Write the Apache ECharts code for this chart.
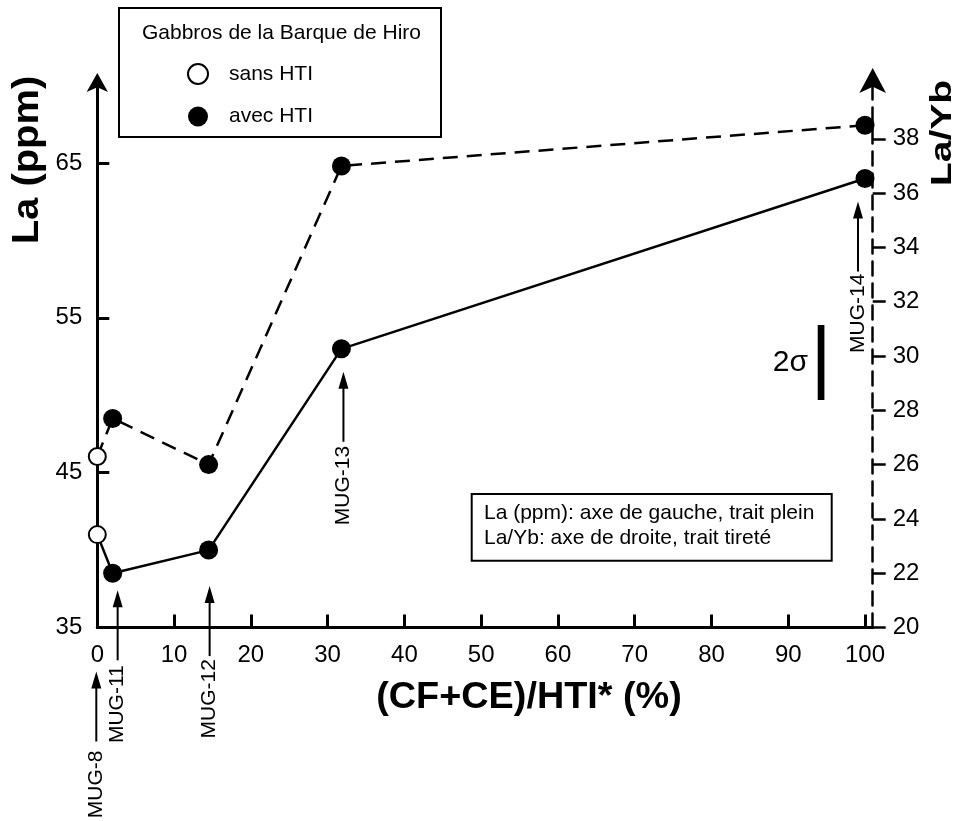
<!DOCTYPE html>
<html>
<head>
<meta charset="UTF-8">
<title>La et La/Yb - Gabbros de la Barque de Hiro</title>
<script src="https://cdn.jsdelivr.net/npm/echarts@6/dist/echarts.min.js"></script>
<style>
  html, body { margin: 0; padding: 0; background: #fff; }
  #main { width: 962px; height: 821px; }
</style>
</head>
<body>
<div id="main"></div>
<script type="text/javascript">
// valeurs
var samples = ['MUG-8', 'MUG-11', 'MUG-12', 'MUG-13', 'MUG-14'];
var ratioHTI = [0, 2, 14.5, 31.8, 100];        // (CF+CE)/HTI* (%)
var laPpm = [41.0, 38.5, 40.0, 53.0, 64.0];     // axe de gauche, trait plein
var laYb = [26.3, 27.7, 26.0, 37.0, 38.5];      // axe de droite, trait tireté
var avecHTI = [false, true, true, true, true];
var xTicks = [0, 10, 20, 30, 40, 50, 60, 70, 80, 90, 100];
var laTicks = [35, 45, 55, 65];
var laYbTicks = [20, 22, 24, 26, 28, 30, 32, 34, 36, 38];

var FONT = 'Liberation Sans, Arial, Helvetica, sans-serif';

function pairs(ys, keep) {
  var out = [];
  for (var i = 0; i < ys.length; i++) {
    if (keep == null || avecHTI[i] === keep) out.push([ratioHTI[i], ys[i]]);
  }
  return out;
}

var chart = echarts.init(document.getElementById('main'));

var openStyle = { color: '#fff', borderColor: '#000', borderWidth: 2, opacity: 1 };
var fullStyle = { color: '#000', borderColor: '#000', borderWidth: 0, opacity: 1 };

var option = {
  animation: false,
  backgroundColor: '#fff',
  grid: { left: 97.3, right: 89.3, top: 81, bottom: 193.5 },
  legend: {
    orient: 'vertical',
    left: 182, top: 58,
    itemWidth: 20, itemHeight: 20, itemGap: 21,
    itemStyle: { opacity: 1 },
    textStyle: { fontFamily: FONT, fontSize: 21, color: '#000', padding: [0, 0, 0, 16] },
    data: ['sans HTI', 'avec HTI']
  },
  xAxis: {
    type: 'value', min: 0, max: 101,
    axisLine: { onZero: false, lineStyle: { color: '#000', width: 3 } },
    axisTick: { inside: true, length: 13, lineStyle: { color: '#000', width: 3 }, customValues: xTicks },
    axisLabel: { margin: 16, fontFamily: FONT, fontSize: 24, color: '#000', customValues: xTicks },
    splitLine: { show: false }
  },
  yAxis: [
    {
      type: 'value', position: 'left', min: 35, max: 70.3,
      axisLine: { show: true, onZero: false, symbol: ['none', 'arrow'], symbolSize: [16, 19], symbolOffset: [0, 8],
        lineStyle: { color: '#000', width: 3 } },
      axisTick: { show: true, inside: true, length: 12, lineStyle: { color: '#000', width: 3 }, customValues: laTicks },
      axisLabel: { margin: 15, fontFamily: FONT, fontSize: 24, color: '#000', customValues: laTicks },
      splitLine: { show: false }
    },
    {
      type: 'value', position: 'right', min: 20, max: 40.13,
      axisLine: { show: true, onZero: false, symbol: ['none', 'arrow'], symbolSize: [20, 25], symbolOffset: [0, 13],
        lineStyle: { color: '#000', width: 2.5, type: [14, 8] } },
      axisTick: { show: true, inside: false, length: 13, lineStyle: { color: '#000', width: 2.5 }, customValues: laYbTicks },
      axisLabel: { margin: 20, fontFamily: FONT, fontSize: 24, color: '#000', customValues: laYbTicks },
      splitLine: { show: false }
    }
  ],
  series: [
    {
      name: 'La', type: 'line', xAxisIndex: 0, yAxisIndex: 0,
      data: pairs(laPpm), showSymbol: false, symbol: 'none', z: 2,
      lineStyle: { color: '#000', width: 2.5 }
    },
    {
      name: 'La/Yb', type: 'line', xAxisIndex: 0, yAxisIndex: 1,
      data: pairs(laYb), showSymbol: false, symbol: 'none', z: 2,
      lineStyle: { color: '#000', width: 2.5, type: [15, 9] }
    },
    { name: 'sans HTI', type: 'scatter', yAxisIndex: 0, data: pairs(laPpm, false),
      symbol: 'circle', symbolSize: 17, itemStyle: openStyle, z: 5 },
    { name: 'sans HTI', type: 'scatter', yAxisIndex: 1, data: pairs(laYb, false),
      symbol: 'circle', symbolSize: 17, itemStyle: openStyle, z: 5 },
    { name: 'avec HTI', type: 'scatter', yAxisIndex: 0, data: pairs(laPpm, true),
      symbol: 'circle', symbolSize: 19, itemStyle: fullStyle, z: 5 },
    { name: 'avec HTI', type: 'scatter', yAxisIndex: 1, data: pairs(laYb, true),
      symbol: 'circle', symbolSize: 19, itemStyle: fullStyle, z: 5 }
  ]
};
chart.setOption(option);

// annotations (flèches + noms d'échantillons), placées à partir des points
var annot = [
  { dx: -1, dy: 44, gap: 9, onAxis: true },
  { dx: 5, dy: 17, gap: 5 },
  { dx: 1, dy: 36, gap: 3 },
  { dx: 2, dy: 23, gap: 4 },
  { dx: -7, dy: 23, gap: 2 }
];

function arrowUp(x, tipY, len) {
  return [
    { type: 'line', shape: { x1: x, y1: tipY + 12, x2: x, y2: tipY + len },
      style: { stroke: '#000', lineWidth: 2 } },
    { type: 'polygon', shape: { points: [[x, tipY], [x - 5, tipY + 17], [x + 5, tipY + 17]] },
      style: { fill: '#000' } }
  ];
}

var gfx = [];
var axisY = chart.convertToPixel({ xAxisIndex: 0, yAxisIndex: 0 }, [0, 35])[1];
for (var i = 0; i < samples.length; i++) {
  var p = chart.convertToPixel({ xAxisIndex: 0, yAxisIndex: 0 }, [ratioHTI[i], laPpm[i]]);
  var a = annot[i];
  var x = p[0] + a.dx;
  var tip = (a.onAxis ? axisY : p[1]) + a.dy;
  var len = 70;
  gfx = gfx.concat(arrowUp(x, tip, len));
  gfx.push({
    type: 'text', x: x, y: tip + len + a.gap, rotation: Math.PI / 2,
    style: { text: samples[i], fontFamily: FONT, fontSize: 21, fill: '#000', align: 'right', verticalAlign: 'middle' }
  });
}

// titres des axes
gfx.push({ type: 'text', x: 28, y: 160, rotation: Math.PI / 2, scaleX: 1.08,
  style: { text: 'La (ppm)', fontFamily: FONT, fontSize: 37, fontWeight: 'bold', fill: '#000', align: 'center', verticalAlign: 'middle' } });
gfx.push({ type: 'text', x: 943, y: 133, rotation: Math.PI / 2, scaleX: 1.3,
  style: { text: 'La/Yb', fontFamily: FONT, fontSize: 30, fontWeight: 'bold', fill: '#000', align: 'center', verticalAlign: 'middle' } });
gfx.push({ type: 'text', x: 529, y: 698, scaleX: 1.05,
  style: { text: '(CF+CE)/HTI* (%)', fontFamily: FONT, fontSize: 36, fontWeight: 'bold', fill: '#000', align: 'center', verticalAlign: 'middle' } });

// cadre de la légende
gfx.push({ type: 'rect', shape: { x: 119, y: 8, width: 322, height: 129 },
  style: { fill: 'none', stroke: '#000', lineWidth: 2 } });
gfx.push({ type: 'text', x: 142, y: 33,
  style: { text: 'Gabbros de la Barque de Hiro', fontFamily: FONT, fontSize: 21, fill: '#000', verticalAlign: 'middle' } });

// cadre explicatif
gfx.push({ type: 'rect', shape: { x: 471.7, y: 494, width: 360, height: 66.7 },
  style: { fill: 'none', stroke: '#000', lineWidth: 2 } });
gfx.push({ type: 'text', x: 484, y: 500.5,
  style: { text: 'La (ppm): axe de gauche, trait plein\nLa/Yb: axe de droite, trait tireté',
    fontFamily: FONT, fontSize: 21, lineHeight: 25, fill: '#000', verticalAlign: 'top' } });

// barre 2 sigma
gfx.push({ type: 'rect', shape: { x: 817.7, y: 325, width: 6.7, height: 75 }, style: { fill: '#000' } });
gfx.push({ type: 'text', x: 808, y: 363,
  style: { text: '2σ', fontFamily: FONT, fontSize: 30, fill: '#000', align: 'right', verticalAlign: 'middle' } });

chart.setOption({ graphic: { elements: gfx } });
</script>
</body>
</html>
